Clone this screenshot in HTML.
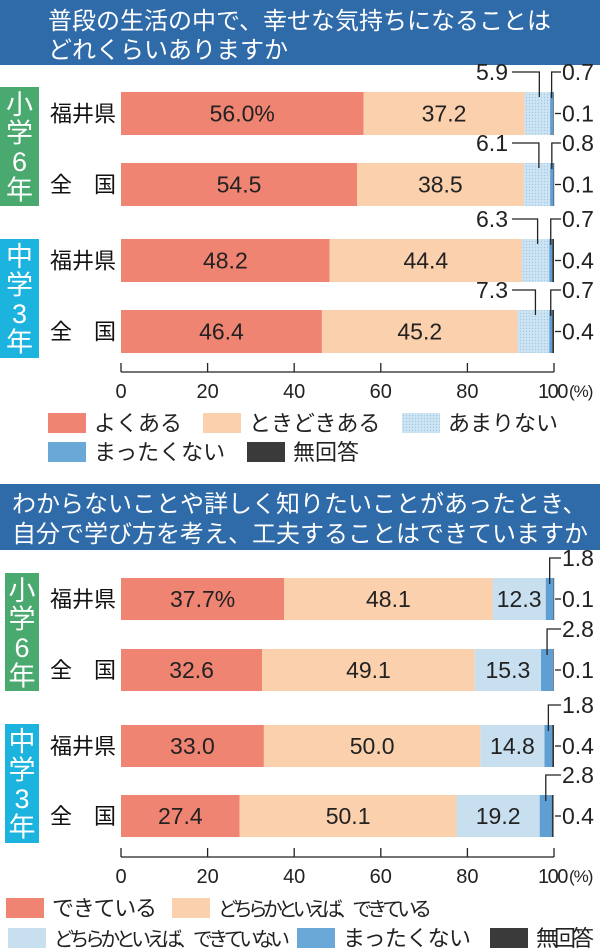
<!DOCTYPE html>
<html><head><meta charset="utf-8">
<style>
html,body{margin:0;padding:0;background:#fff;}
svg{display:block;font-family:"Liberation Sans","Noto Sans CJK JP",sans-serif;}
</style></head>
<body>
<svg id="chart" width="600" height="949" viewBox="0 0 600 949" xmlns="http://www.w3.org/2000/svg">
<defs>
<pattern id="dots" width="3" height="3" patternUnits="userSpaceOnUse"><rect width="3" height="3" fill="#cfe4f2"/><circle cx="1.5" cy="1.5" r="0.7" fill="#9fcbe6"/></pattern>
</defs>
<g>
<rect x="0" y="0" width="600" height="65" fill="#2f6aa9"/>
<text x="48" y="29" font-size="24" fill="#fff">普段の生活の中で、幸せな気持ちになることは</text>
<text x="48" y="58" font-size="24" fill="#fff">どれくらいありますか</text>
</g>
<g>
<rect x="0" y="484" width="600" height="66" fill="#2f6aa9"/>
<text x="12" y="512" font-size="24" fill="#fff">わからないことや詳しく知りたいことがあったとき、</text>
<text x="12" y="542" font-size="24" fill="#fff">自分で学び方を考え、工夫することはできていますか</text>
</g>
<g id="c1"></g>
<g id="c2"></g>
</svg>
<script>
// Chart 1 data
const c1Rows = ['福井県','全　国','福井県','全　国'];
const c1Often = [56.0, 54.5, 48.2, 46.4];
const c1Sometimes = [37.2, 38.5, 44.4, 45.2];
const c1Rarely = [5.9, 6.1, 6.3, 7.3];
const c1Never = [0.7, 0.8, 0.7, 0.7];
const c1NoAnswer = [0.1, 0.1, 0.4, 0.4];
// Chart 2 data
const c2Rows = ['福井県','全　国','福井県','全　国'];
const c2Can = [37.7, 32.6, 33.0, 27.4];
const c2RatherCan = [48.1, 49.1, 50.0, 50.1];
const c2RatherCannot = [12.3, 15.3, 14.8, 19.2];
const c2Never = [1.8, 2.8, 1.8, 2.8];
const c2NoAnswer = [0.1, 0.1, 0.4, 0.4];
const tickValues = [0, 20, 40, 60, 80, 100];
const tickLabels = ['0','20','40','60','80','100'];

const NS = 'http://www.w3.org/2000/svg';
const X0 = 121, X1 = 554;
function xs(v){ return X0 + v * (X1 - X0) / 100; }
function mk(parent, tag, attrs, text){
  const e = document.createElementNS(NS, tag);
  for (const k in attrs) e.setAttribute(k, attrs[k]);
  if (text !== undefined) e.textContent = text;
  parent.appendChild(e);
  return e;
}
const colors = ['#f08473', '#fbd0ad', null, '#5f9fd3', '#333'];

function drawChart(gid, rows, series, cfg){
  const g = document.getElementById(gid);
  cfg.groups.forEach(gr => {
    const r = mk(g, 'rect', {x: gr.x, y: gr.y, width: 39 - gr.x, height: gr.h, fill: gr.color});
    
    
    gr.chars.forEach((c, i) => {
      const t = mk(g, 'text', {x: (gr.x + 39) / 2, y: gr.y + 27 + i * 28.5, 'font-size': 27, fill: '#fff', 'text-anchor': 'middle'}, c);
      
      
    });
  });
  rows.forEach((name, i) => {
    const top = cfg.tops[i], h = cfg.h, cy = top + h / 2;
    const lbl = mk(g, 'text', {x: 50, y: cy + 8, 'font-size': 22, fill: '#111'}, name);
    
    
    let acc = 0;
    const segs = [];
    series.forEach((s, k) => {
      const v = s[i];
      const xa = xs(acc), xb = xs(acc + v);
      const fill = k === 2 ? cfg.c3 : colors[k];
      const r = mk(g, 'rect', {x: xa, y: top, width: Math.max(xb - xa, 0.6), height: h, fill: fill});
      
      
      segs.push([xa, xb, v]);
      acc += v;
    });
    const inside = cfg.insideCount;
    for (let k = 0; k < inside; k++) {
      const [xa, xb, v] = segs[k];
      let txt = v.toFixed(1) + (i === 0 && k === 0 ? '%' : '');
      const t = mk(g, 'text', {x: (xa + xb) / 2, y: cy + 8, 'font-size': 23, fill: '#222', 'text-anchor': 'middle'}, txt);
      
      
    }
    const ly = top - 20;
    if (inside === 2) {
      const [xa, xb, v] = segs[2];
      const mx = (xa + xb) / 2 + 2;
      const t = mk(g, 'text', {x: 508, y: ly + 8, 'font-size': 23, fill: '#222', 'text-anchor': 'end'}, v.toFixed(1));
      
      
      const p = mk(g, 'path', {d: `M512 ${ly} H${mx} V${top + 5}`, stroke: '#222', 'stroke-width': 1.3, fill: 'none'});
      
      
    }
    const [na, nb, nv] = segs[3];
    const nx = (na + nb) / 2;
    const t4 = mk(g, 'text', {x: 562, y: ly + 8, 'font-size': 23, fill: '#222'}, nv.toFixed(1));
    
    
    const p4 = mk(g, 'path', {d: `M${nx} ${top + 6} V${ly} H561`, stroke: '#222', 'stroke-width': 1.3, fill: 'none'});
    
    
    const t5 = mk(g, 'text', {x: 562, y: cy + 8, 'font-size': 23, fill: '#222'}, series[4][i].toFixed(1));
    
    
    const p5 = mk(g, 'path', {d: `M${X1 + 1} ${cy} H561`, stroke: '#222', 'stroke-width': 1.3, fill: 'none'});
    
    
  });
  const ay = cfg.axisY;
  const ax = mk(g, 'line', {x1: X0, x2: X1, y1: ay, y2: ay, stroke: '#222', 'stroke-width': 1.3});
  
  
  tickValues.forEach((v, j) => {
    const tk = mk(g, 'line', {x1: xs(v), x2: xs(v), y1: ay - 9, y2: ay, stroke: '#222', 'stroke-width': 1.3});
    
    
    const last = j === tickValues.length - 1;
    const tl = mk(g, 'text', {x: last ? xs(v) - 16 : xs(v), y: ay + 26, 'font-size': 20, fill: '#222', 'text-anchor': last ? 'start' : 'middle', 'letter-spacing': last ? -1.5 : 0}, tickLabels[j]);
    
    
    if (last) {
      const u = mk(g, 'text', {x: xs(v) + 15, y: ay + 25, 'font-size': 17, fill: '#222', 'letter-spacing': -1}, '(%)');
      
      
    }
  });
  cfg.legend.forEach(L => {
    const sw = mk(g, 'rect', {x: L.x, y: L.y - 10, width: 38, height: 20, fill: L.fill});
    
    
    const lt = mk(g, 'text', {x: L.x + 46, y: L.y + 8, 'font-size': L.fs || 22, fill: '#222'}, L.text);
    if (L.len) lt.setAttribute('textLength', L.len);
    
    
  });
}

drawChart('c1', c1Rows, [c1Often, c1Sometimes, c1Rarely, c1Never, c1NoAnswer], {
  tops: [92, 163, 239, 310], h: 43, c3: 'url(#dots)', insideCount: 2, axisY: 372,
  groups: [
    {x: 0, y: 87, h: 119, color: '#4aa96f', chars: ['小','学','6','年']},
    {x: 0, y: 239, h: 119, color: '#1cb3df', chars: ['中','学','3','年']}
  ],
  legend: [
    {x: 48, y: 423, fill: '#f08473', text: 'よくある'},
    {x: 203, y: 423, fill: '#fbd0ad', text: 'ときどきある'},
    {x: 402, y: 423, fill: 'url(#dots)', text: 'あまりない'},
    {x: 48, y: 452, fill: '#6aa8d8', text: 'まったくない'},
    {x: 247, y: 452, fill: '#3a3a3a', text: '無回答'}
  ]
});
drawChart('c2', c2Rows, [c2Can, c2RatherCan, c2RatherCannot, c2Never, c2NoAnswer], {
  tops: [578, 649, 725, 795], h: 42, c3: '#c8dff0', insideCount: 3, axisY: 857,
  groups: [
    {x: 5, y: 573, h: 118, color: '#4aa96f', chars: ['小','学','6','年']},
    {x: 5, y: 724, h: 119, color: '#1cb3df', chars: ['中','学','3','年']}
  ],
  legend: [
    {x: 6, y: 908, fill: '#f08473', text: 'できている', len: 105},
    {x: 172, y: 908, fill: '#fbd0ad', text: 'どちらかといえば、できている', fs: 20, len: 214},
    {x: 8, y: 938, fill: '#c8dff0', text: 'どちらかといえば、できていない', fs: 20, len: 236},
    {x: 297, y: 938, fill: '#6aa8d8', text: 'まったくない', len: 128},
    {x: 490, y: 938, fill: '#3a3a3a', text: '無回答', len: 58}
  ]
});
</script>
</body></html>
